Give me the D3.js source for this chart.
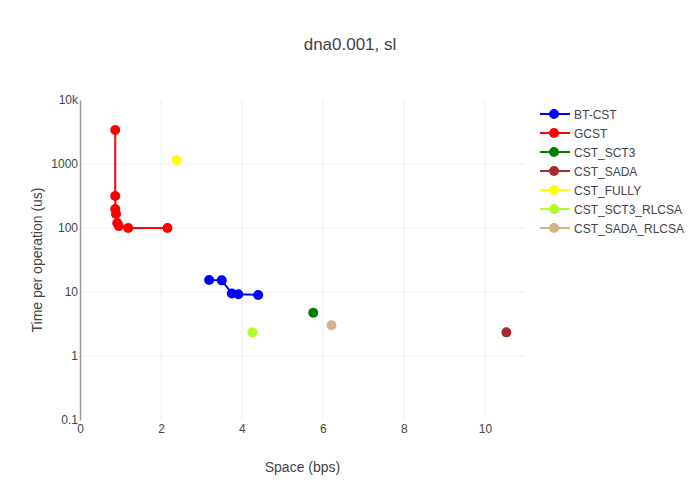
<!DOCTYPE html>
<html>
<head>
<meta charset="utf-8">
<script src="https://cdn.jsdelivr.net/npm/d3@7"></script>
<style>
  body { margin: 0; background: #fff; }
  text { font-family: "Liberation Sans", Arial, sans-serif; }
</style>
</head>
<body>
<svg id="chart" width="700" height="500"></svg>
<script>
// series, in legend order
let series_names = ["BT-CST", "GCST", "CST_SCT3", "CST_SADA", "CST_FULLY", "CST_SCT3_RLCSA", "CST_SADA_RLCSA"]
let series_colors = ["blue", "red", "green", "brown", "yellow", "greenyellow", "tan"]

let bt_cst_x = [3.19, 3.5, 3.75, 3.91, 4.4]
let bt_cst_y = [15.4, 15.2, 9.5, 9.2, 9.0]
let gcst_x = [0.87, 0.87, 0.87, 0.89, 0.92, 0.96, 1.19, 2.16]
let gcst_y = [3400, 316, 198, 166, 120, 107, 100, 100]
let sct3_x = [5.76]
let sct3_y = [4.75]
let sada_x = [10.53]
let sada_y = [2.34]
let fully_x = [2.39]
let fully_y = [1150]
let sct3_rlcsa_x = [4.26]
let sct3_rlcsa_y = [2.34]
let sada_rlcsa_x = [6.21]
let sada_rlcsa_y = [3.02]

let series_x = [bt_cst_x, gcst_x, sct3_x, sada_x, fully_x, sct3_rlcsa_x, sada_rlcsa_x]
let series_y = [bt_cst_y, gcst_y, sct3_y, sada_y, fully_y, sct3_rlcsa_y, sada_rlcsa_y]

let x_ticks = [0, 2, 4, 6, 8, 10]
let y_ticks = [0.1, 1, 10, 100, 1000, 10000]
let y_tick_labels = ["0.1", "1", "10", "100", "1000", "10k"]

let svg = d3.select("#chart")

let plot_left = 80, plot_right = 525, plot_top = 100, plot_bottom = 420

let x = d3.scaleLinear().domain([0, 10.99]).range([plot_left, plot_right])
let y = d3.scaleLog().domain([0.1, 10000]).range([plot_bottom, plot_top])

// grid
let grid = svg.append("g")
grid.selectAll(".gx")
    .data(x_ticks.filter(d => d > 0))
    .enter().append("line")
    .attr("x1", d => x(d)).attr("x2", d => x(d))
    .attr("y1", plot_top).attr("y2", plot_bottom)
    .attr("stroke", "#eee").attr("stroke-width", 1)
grid.selectAll(".gy")
    .data(y_ticks.filter(d => d > 0.1 && d < 10000))
    .enter().append("line")
    .attr("x1", plot_left).attr("x2", plot_right)
    .attr("y1", d => y(d)).attr("y2", d => y(d))
    .attr("stroke", "#eee").attr("stroke-width", 1)

// axes
let x_axis = d3.axisBottom(x).tickValues(x_ticks).tickSize(0).tickPadding(4)
let gx = svg.append("g").attr("transform", "translate(0," + plot_bottom + ")").call(x_axis)
gx.select(".domain").remove()
gx.selectAll("text").attr("fill", "#444").attr("font-size", 12)

let y_axis = d3.axisLeft(y).tickValues(y_ticks)
               .tickFormat((d, i) => y_tick_labels[i]).tickSize(0).tickPadding(2)
let gy = svg.append("g").attr("transform", "translate(" + plot_left + ",0)").call(y_axis)
gy.select(".domain").attr("stroke", "#999").attr("stroke-width", 1.5)
gy.selectAll("text").attr("fill", "#444").attr("font-size", 12)

// series
let plot = svg.append("g")
series_names.forEach(function(name, i){
  let pts = series_x[i].map((v, j) => [v, series_y[i][j]])
  if (pts.length > 1) {
    plot.append("path")
        .datum(pts)
        .attr("fill", "none")
        .attr("stroke", series_colors[i])
        .attr("stroke-width", 2)
        .attr("d", d3.line().x(d => x(d[0])).y(d => y(d[1])))
  }
  plot.selectAll(".pt" + i)
      .data(pts)
      .enter().append("circle")
      .attr("cx", d => x(d[0]))
      .attr("cy", d => y(d[1]))
      .attr("r", 5)
      .attr("fill", series_colors[i])
})

// legend
let legend = svg.append("g").attr("transform", "translate(540,114)")
series_names.forEach(function(name, i){
  let row = legend.append("g").attr("transform", "translate(0," + (i * 19) + ")")
  row.append("line").attr("x1", 0).attr("x2", 30).attr("y1", 0).attr("y2", 0)
     .attr("stroke", series_colors[i]).attr("stroke-width", 2)
  row.append("circle").attr("cx", 14).attr("cy", 0).attr("r", 5).attr("fill", series_colors[i])
  row.append("text").attr("x", 34).attr("y", 4.5)
     .attr("font-size", 12).attr("fill", "#444").text(name)
})

// titles
svg.append("text").attr("x", 350).attr("y", 50).attr("text-anchor", "middle")
   .attr("font-size", 17).attr("fill", "#444").text("dna0.001, sl")
svg.append("text").attr("x", (plot_left + plot_right) / 2).attr("y", 472).attr("text-anchor", "middle")
   .attr("font-size", 14).attr("fill", "#444").text("Space (bps)")
svg.append("text").attr("transform", "translate(42," + ((plot_top + plot_bottom) / 2) + ") rotate(-90)")
   .attr("text-anchor", "middle").attr("font-size", 14).attr("fill", "#444")
   .text("Time per operation (us)")
</script>
</body>
</html>
